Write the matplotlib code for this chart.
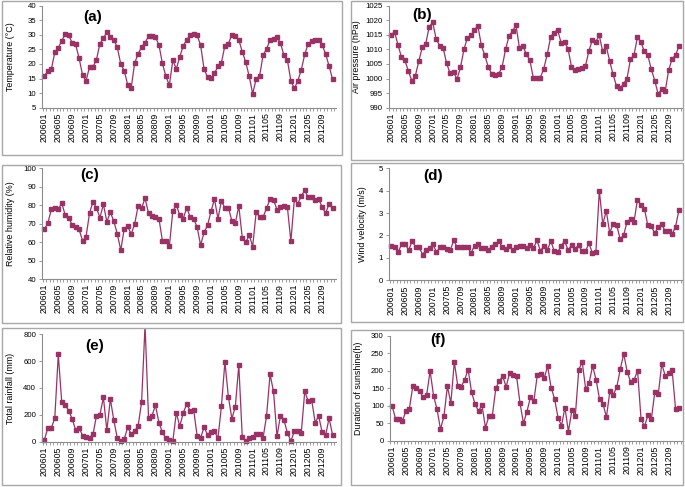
import matplotlib.pyplot as plt
from matplotlib.patches import Rectangle
from matplotlib.ticker import FixedLocator

plt.rcParams['font.family'] = ['Liberation Sans', 'DejaVu Sans']

# monthly categories 200601 .. 201212
months = [f'{y}{m:02d}' for y in range(2006, 2013) for m in range(1, 13)]

temperature = [16, 17.5, 18.2, 24, 25.5, 28, 30.2, 29.8, 27.3, 26.7, 22, 16.2,
               14.2, 19, 19, 21.5, 27, 28.8, 31, 29.3, 28.3, 25.7, 20, 17.7,
               12.8, 11.7, 20.3, 23.5, 25.8, 27.3, 29.5, 29.5, 29.2, 26.5, 20.2, 15.8,
               12.7, 21.3, 18.3, 22.5, 26.2, 28.3, 30, 30.2, 29.8, 26.5, 18.2, 15.5,
               15.1, 16.8, 19.2, 20.5, 26.3, 27, 30, 29.5, 28.3, 24.2, 20.6, 15.8,
               9.8, 14.8, 16, 23, 25.2, 28.2, 28.7, 29.2, 27.2, 23, 21.3, 14.2,
               11.6, 14.2, 18, 23.3, 27, 27.8, 28.3, 28.3, 26.5, 23.5, 19.3, 14.8]

air_pressure = [1015, 1016, 1011.5, 1007.3, 1006.2, 1002.5, 999.2, 1001, 1006, 1010.8, 1012, 1017.8,
                1019.3, 1013.5, 1011.3, 1010.5, 1005.3, 1001.8, 1002.2, 999.8, 1003.8, 1010, 1014, 1014.8,
                1016.5, 1018.2, 1011.5, 1008, 1004, 1001.6, 1001.2, 1001.5, 1004, 1010, 1014.6, 1016.3,
                1018.3, 1010.5, 1011.2, 1008.3, 1006.3, 1000.2, 1000.3, 1000.3, 1003.3, 1008.3, 1014.3, 1015.8,
                1016.7, 1012.3, 1012.5, 1010.3, 1004, 1003, 1003.2, 1003.5, 1004.2, 1009.3, 1013.3, 1012.6,
                1014.8, 1009.3, 1011.2, 1006, 1001.4, 997.3, 996.6, 998.2, 1000, 1006.6, 1008, 1014.1,
                1012.5, 1009.3, 1008, 1003.2, 999.3, 994.6, 996.4, 995.6, 1002.8, 1006.8, 1008, 1011.2]

humidity = [67.1, 70.2, 77.8, 78.7, 77.8, 81.1, 74.7, 73.1, 69.3, 68.4, 66.9, 60.7,
            62.9, 75.6, 82.0, 78.4, 73.3, 80.4, 71.1, 76.2, 71.3, 64.5, 55.6, 67.3,
            68.5, 64.4, 69.8, 79.5, 78.4, 83.8, 75.6, 74.0, 73.5, 72.7, 60.7, 60.4,
            57.8, 76.9, 80.0, 74.7, 72.7, 78.7, 73.6, 72.7, 68.0, 58.4, 65.3, 69.1,
            76.7, 83.3, 72.7, 82.4, 78.4, 78.7, 71.5, 70.2, 79.6, 62.4, 59.8, 63.8,
            57.6, 76.2, 73.6, 73.5, 78.5, 83.1, 82.9, 77.6, 78.9, 79.8, 78.9, 60.4,
            83.1, 80.9, 85.1, 88.0, 84.2, 84.5, 82.9, 83.3, 79.1, 75.6, 80.7, 78.7]

wind = [1.53, 1.47, 1.28, 1.62, 1.62, 1.35, 1.75, 1.48, 1.47, 1.15, 1.35, 1.42,
        1.62, 1.25, 1.47, 1.47, 1.38, 1.35, 1.78, 1.47, 1.5, 1.47, 1.48, 1.22,
        1.55, 1.62, 1.42, 1.43, 1.37, 1.5, 1.6, 1.75, 1.47, 1.4, 1.52, 1.35,
        1.5, 1.55, 1.53, 1.45, 1.58, 1.42, 1.8, 1.3, 1.55, 1.35, 1.75, 1.3,
        1.25, 1.55, 1.75, 1.35, 1.57, 1.4, 1.57, 1.3, 1.3, 1.65, 1.22, 1.25,
        4.0, 2.5, 3.1, 2.12, 2.52, 2.47, 1.85, 2.0, 2.62, 2.72, 2.6, 3.6,
        3.35, 3.2, 2.45, 2.42, 2.1, 2.38, 2.5, 2.2, 2.22, 2.05, 2.4, 3.15]

rainfall = [15, 102, 102, 177, 650, 295, 275, 232, 170, 87, 105, 45,
            32, 30, 55, 192, 202, 330, 85, 317, 160, 27, 5, 20,
            107, 57, 80, 117, 295, 870, 177, 195, 270, 142, 70, 25,
            10, 5, 215, 115, 215, 280, 230, 237, 42, 30, 107, 52,
            75, 77, 27, 265, 595, 335, 172, 260, 570, 35, 3, 30,
            32, 55, 55, 30, 192, 502, 375, 42, 192, 162, 67, 5,
            77, 77, 67, 375, 300, 310, 142, 192, 72, 47, 175, 52]

sunshine = [100, 63, 63, 57, 85, 92, 156, 150, 142, 124, 131, 200,
            129, 90, 33, 70, 156, 108, 226, 157, 155, 175, 204, 139,
            105, 84, 103, 37, 70, 72, 150, 172, 184, 155, 194, 187,
            185, 108, 50, 83, 124, 113, 188, 190, 180, 213, 152, 120,
            66, 43, 95, 26, 87, 71, 204, 225, 148, 166, 214, 175,
            119, 105, 68, 142, 132, 154, 205, 249, 198, 168, 174, 201,
            63, 41, 73, 63, 140, 133, 220, 186, 193, 202, 90, 95]

W, H = 685, 487
fig = plt.figure(figsize=(W / 100, H / 100), dpi=100)


def fbox(x0, y0, x1, y1):
    # pixel box (top-left origin) -> figure fraction [l, b, w, h]
    return [x0 / W, 1 - y1 / H, (x1 - x0) / W, (y1 - y0) / H]


line_c = '#993366'
axis_c = '#8c8c8c'

# data, ylabel, tag, (ymin, ymax, step), axes px box, frame px box, tag px pos, ylabel x
panels = [
    (temperature, 'Temperature (°C)', '(a)', (5, 40, 5), (42.3, 5.7, 336, 107.7), (2, 1, 342, 155), (93, 17), -0.093),
    (air_pressure, 'Air pressure (hPa)', '(b)', (990, 1025, 5), (389, 5.7, 682.5, 107.7), (351, 1, 683, 160), (422, 15), -0.096),
    (humidity, 'Relative humidity (%)', '(c)', (40, 100, 10), (42.3, 168.3, 336, 279), (2, 165, 341, 323), (90, 175), -0.093),
    (wind, 'Wind velocity (m/s)', '(d)', (0, 5, 1), (389.3, 168.3, 682.5, 280.3), (351, 163, 683, 322), (433, 176), -0.076),
    (rainfall, 'Total rainfall (mm)', '(e)', (0, 800, 200), (42.3, 334.3, 336, 441.7), (2, 328, 341, 485), (95, 346), -0.093),
    (sunshine, 'Duration of sunshine(h)', '(f)', (0, 300, 50), (390, 336, 682.5, 440.7), (351, 330, 683, 485), (438, 340), -0.093),
]

x = list(range(len(months)))

for data, ylab, tag, (y0, y1, ys), abox, frm, tpos, ylx in panels:
    frame = Rectangle((frm[0] / W, 1 - frm[3] / H), (frm[2] - frm[0]) / W, (frm[3] - frm[1]) / H,
                      transform=fig.transFigure, fill=False, ec='#a8a8a8', lw=1)
    fig.add_artist(frame)

    ax = fig.add_axes(fbox(*abox))
    ax.patch.set_alpha(0)
    ln, = ax.plot(x, data, color=line_c, lw=0.9, marker='s', ms=2.6, mec=line_c, mfc=line_c)
    # let the line run past the axes (rainfall peak) but stop at the panel frame
    ln.set_clip_path(frame)
    ln.set_clip_on(True)

    ax.set_xlim(-0.6, 84)
    ax.set_ylim(y0, y1)
    ax.set_yticks(list(range(y0, y1 + 1, ys)))
    ax.set_xticks(x[::4])
    ax.set_xticklabels(months[::4], rotation=90, fontsize=6.3)
    ax.xaxis.set_minor_locator(FixedLocator([i - 0.5 for i in range(len(months) + 1)]))
    ax.tick_params(axis='x', which='major', length=0, pad=3.5)
    ax.tick_params(axis='x', which='minor', length=2.2, width=0.6, color=axis_c, direction='out')
    ax.tick_params(axis='y', length=2.5, width=0.6, color=axis_c, labelsize=5.6, pad=2)

    for s in ('top', 'right'):
        ax.spines[s].set_visible(False)
    for s in ('left', 'bottom'):
        ax.spines[s].set_color(axis_c)
        ax.spines[s].set_linewidth(0.8)

    ax.set_ylabel(ylab, fontsize=6.4)
    ax.yaxis.set_label_coords(ylx, 0.5)

    fig.text(tpos[0] / W, 1 - tpos[1] / H, tag, fontsize=11, fontweight='bold',
             ha='center', va='center')

fig.savefig('out.png', dpi=100)
